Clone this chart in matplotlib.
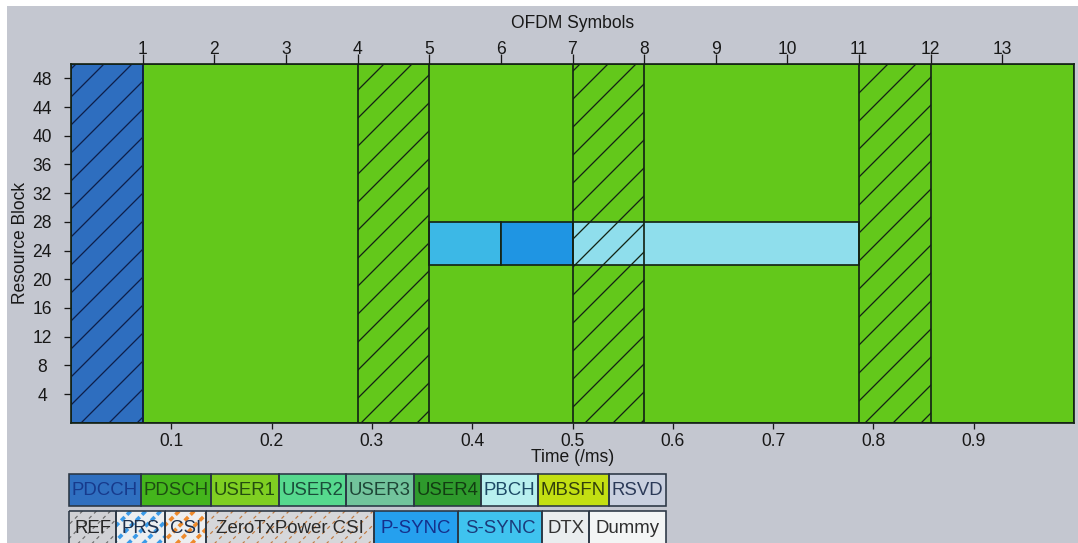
import numpy as np
import matplotlib
matplotlib.use("Agg")
import matplotlib.pyplot as plt
from matplotlib.patches import Rectangle
from matplotlib.lines import Line2D

plt.rcParams["font.family"] = ["Liberation Sans", "DejaVu Sans"]
plt.rcParams["hatch.linewidth"] = 1.1

# ---- downlink subframe, normal CP, 50 resource blocks ----
n_symbols = 14
n_rb = 50
subframe_ms = 1.0

pdcch_symbols = [0]
ref_symbols = [0, 4, 7, 11]
sync_rb_range = [22, 28]
sss_symbols = [5]
pss_symbols = [6]
pbch_symbols = [7, 8, 9, 10]

time_ticks = [0.1, 0.2, 0.3, 0.4, 0.5, 0.6, 0.7, 0.8, 0.9]
rb_ticks = [4, 8, 12, 16, 20, 24, 28, 32, 36, 40, 44, 48]
symbol_ticks = [1, 2, 3, 4, 5, 6, 7, 8, 9, 10, 11, 12, 13]

legend_row1 = ["PDCCH", "PDSCH", "USER1", "USER2", "USER3", "USER4", "PBCH", "MBSFN", "RSVD"]
legend_row2 = ["REF", "PRS", "CSI", "ZeroTxPower CSI", "P-SYNC", "S-SYNC", "DTX", "Dummy"]

# ---- styling ----
W, H, DPI = 1078, 543, 84
PT = 72.0 / DPI           # points per pixel

BG = "#c4c7d0"
EDGE = "#142314"
GRID_COLORS = {
    "PDCCH": "#2e6ebf",
    "DATA": "#63c81b",
    "S-SYNC": "#3cb8e6",
    "P-SYNC": "#1f95e3",
    "PBCH": "#8fdeec",
}
LEGEND_FILL = {
    "PDCCH": "#2f6fc0", "PDSCH": "#44b51c", "USER1": "#7fcf22", "USER2": "#56d98e",
    "USER3": "#72c49c", "USER4": "#2e9a2c", "PBCH": "#b8f0ef", "MBSFN": "#c3df12",
    "RSVD": "#c9d0df", "REF": "#d0d1d5", "PRS": "#eceef0", "CSI": "#eceef0",
    "ZeroTxPower CSI": "#d6d7da", "P-SYNC": "#25a0ee", "S-SYNC": "#3fc3ef",
    "DTX": "#e9edef", "Dummy": "#f3f5f5",
}
LEGEND_TEXT = {
    "PDCCH": "#173a8c", "PDSCH": "#1d4d12", "USER1": "#244d10", "USER2": "#1b4d3a",
    "USER3": "#1e4536", "USER4": "#123d12", "PBCH": "#1d4a66", "MBSFN": "#33400c",
    "RSVD": "#2b3a58", "REF": "#262626", "PRS": "#1f2f4a", "CSI": "#1f2f4a",
    "ZeroTxPower CSI": "#2a2a2a", "P-SYNC": "#15308c", "S-SYNC": "#1b3a7a",
    "DTX": "#333333", "Dummy": "#2e2e2e",
}
LEGEND_STRIPES = {   # color, line width (px), spacing (px), dashes
    "REF": ("#6a6a6a", 1.2, 14, (3, 3)),
    "PRS": ("#3a9ae8", 3.6, 15, (1.4, 0.9)),
    "CSI": ("#ee8a2c", 3.6, 15, (1.4, 0.9)),
    "ZeroTxPower CSI": ("#c07a40", 1.2, 14, (3, 3)),
}

fig = plt.figure(figsize=(W / DPI, H / DPI), dpi=DPI, facecolor="white")

# pixel-space canvas for the panel background and the legend
bg = fig.add_axes([0, 0, 1, 1], zorder=-1)
bg.set_xlim(0, W)
bg.set_ylim(H, 0)
bg.axis("off")
bg.add_patch(Rectangle((7, 6), W - 7, H - 6, facecolor=BG, edgecolor="none"))

# ---- resource grid ----
ax_l, ax_r, ax_t, ax_b = 71.0, 1074.0, 64.0, 422.7
ax = fig.add_axes([ax_l / W, 1 - ax_b / H, (ax_r - ax_l) / W, (ax_b - ax_t) / H])
ax.set_xlim(0, subframe_ms)
ax.set_ylim(0, n_rb)
ax.set_facecolor(GRID_COLORS["DATA"])

edges = np.arange(n_symbols + 1) / n_symbols * subframe_ms
sym_w = subframe_ms / n_symbols
lw = 1.7 * PT

# control region
c0, c1 = min(pdcch_symbols), max(pdcch_symbols) + 1
ax.add_patch(Rectangle((edges[c0], 0), edges[c1] - edges[c0], n_rb,
                       facecolor=GRID_COLORS["PDCCH"], edgecolor=EDGE, lw=lw, zorder=1))
# shared data region
ax.add_patch(Rectangle((edges[c1], 0), edges[-1] - edges[c1], n_rb,
                       facecolor=GRID_COLORS["DATA"], edgecolor=EDGE, lw=lw, zorder=1))

rb0, rb1 = sync_rb_range
for s in sss_symbols:
    ax.add_patch(Rectangle((edges[s], rb0), sym_w, rb1 - rb0,
                           facecolor=GRID_COLORS["S-SYNC"], edgecolor=EDGE, lw=lw, zorder=2))
for s in pss_symbols:
    ax.add_patch(Rectangle((edges[s], rb0), sym_w, rb1 - rb0,
                           facecolor=GRID_COLORS["P-SYNC"], edgecolor=EDGE, lw=lw, zorder=2))
p0, p1 = min(pbch_symbols), max(pbch_symbols) + 1
ax.add_patch(Rectangle((edges[p0], rb0), edges[p1] - edges[p0], rb1 - rb0,
                       facecolor=GRID_COLORS["PBCH"], edgecolor=EDGE, lw=lw, zorder=2))

# reference-signal symbols, hatched across the whole band
for s in ref_symbols:
    hc = "#0e1f4a" if s in pdcch_symbols else EDGE
    ax.add_patch(Rectangle((edges[s], 0), sym_w, n_rb, fill=False, hatch="/",
                           edgecolor=hc, lw=lw, zorder=3))

for sp in ax.spines.values():
    sp.set_color(EDGE)
    sp.set_linewidth(lw)
    sp.set_zorder(4)

tick_color = "#181818"
ax.set_xticks(time_ticks)
ax.set_xticklabels([f"{t:.1f}" for t in time_ticks])
ax.set_yticks(rb_ticks)
ax.set_yticklabels([str(v) for v in rb_ticks])
ax.tick_params(axis="x", direction="out", length=6 * PT, width=1.3 * PT, pad=4 * PT,
               labelsize=15, colors=tick_color)
ax.tick_params(axis="y", direction="out", length=7 * PT, width=1.3 * PT, pad=22 * PT,
               labelsize=15, colors=tick_color)
for lbl in ax.get_yticklabels():
    lbl.set_horizontalalignment("center")

ax.set_xlabel("Time (/ms)", fontsize=15, color=tick_color)
ax.xaxis.set_label_coords(0.5, -(457 - ax_b) / (ax_b - ax_t))
ax.xaxis.label.set_va("center")
ax.set_ylabel("Resource Block", fontsize=15, color=tick_color)
ax.yaxis.set_label_coords(-(ax_l - 21) / (ax_r - ax_l), 0.5)
ax.yaxis.label.set_va("center")

# OFDM symbol index along the top
ax2 = ax.twiny()
ax2.set_xlim(ax.get_xlim())
ax2.set_xticks(edges[symbol_ticks])
ax2.set_xticklabels([str(v) for v in symbol_ticks])
ax2.tick_params(axis="x", direction="out", length=10 * PT, width=1.3 * PT, pad=-3.5 * PT,
                labelsize=15, colors=tick_color)
for sp in ax2.spines.values():
    sp.set_visible(False)
ax2.set_xlabel("OFDM Symbols", fontsize=15, color=tick_color)
ax2.xaxis.set_label_coords(0.5, 1 + (ax_t - 24) / (ax_b - ax_t))
ax2.xaxis.label.set_va("center")

# ---- channel legend ----
renderer = fig.canvas.get_renderer()
leg_left, leg_right = 69, 666
box_edge = "#2a3644"


def stripes(x0, y0, x1, y1, spec, clip):
    color, wpx, spacing, dashes = spec
    h = y1 - y0
    c = x0 - h
    while c < x1:
        ln = Line2D([c, c + h], [y1, y0], color=color, lw=wpx * PT, dashes=dashes,
                    solid_capstyle="butt", zorder=2)
        bg.add_line(ln)
        ln.set_clip_path(clip)
        c += spacing


def legend_row(names, top, bottom):
    texts = [bg.text(0, (top + bottom) / 2 + 0.5, n, fontsize=16, ha="center",
                     va="center", color=LEGEND_TEXT[n], zorder=3) for n in names]
    widths = [t.get_window_extent(renderer).width + 6 for t in texts]
    scale = (leg_right - leg_left) / sum(widths)
    x = leg_left
    for n, t, w in zip(names, texts, widths):
        w *= scale
        box = Rectangle((x, top), w, bottom - top, facecolor=LEGEND_FILL[n],
                        edgecolor="none", zorder=1)
        bg.add_patch(box)
        if n in LEGEND_STRIPES:
            stripes(x, top, x + w, bottom, LEGEND_STRIPES[n], box)
        bg.add_patch(Rectangle((x, top), w, bottom - top, fill=False,
                               edgecolor=box_edge, lw=1.6 * PT, zorder=4))
        t.set_x(x + w / 2)
        x += w


legend_row(legend_row1, 474, 506)
legend_row(legend_row2, 510.5, 545)

fig.savefig("out.png", dpi=DPI, facecolor="white")
